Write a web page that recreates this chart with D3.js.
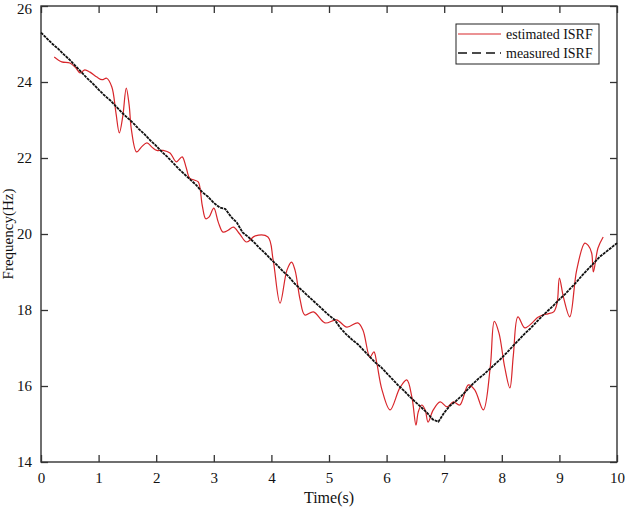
<!DOCTYPE html>
<html>
<head>
<meta charset="utf-8">
<script src="https://cdn.jsdelivr.net/npm/d3@7"></script>
<style>
  body { margin: 0; background: #fff; }
  svg text { font-family: "Liberation Serif", "Times New Roman", serif; fill: #111; }
</style>
</head>
<body>
<div id="chart"></div>
<script>
const width = 625;
const height = 508;
const margin = { top: 6, right: 8, bottom: 46, left: 41 };

const xTicks = [0, 1, 2, 3, 4, 5, 6, 7, 8, 9, 10];
const yTicks = [14, 16, 18, 20, 22, 24, 26];

// measured ISRF, sampled every 0.1 s from 0 to 10 s
const measuredStep = 0.1;
const measuredFreq = [
  25.30, 25.15, 25.00, 24.87, 24.72, 24.58, 24.42, 24.26, 24.10, 23.96,
  23.80, 23.65, 23.52, 23.36, 23.20, 23.06, 22.92, 22.76, 22.62, 22.46,
  22.32, 22.16, 22.02, 21.86, 21.70, 21.56, 21.42, 21.28, 21.10, 20.98,
  20.82, 20.70, 20.66, 20.45, 20.30, 20.04, 19.92, 19.78, 19.62, 19.48,
  19.32, 19.18, 19.02, 18.88, 18.70, 18.56, 18.42, 18.28, 18.14, 18.00,
  17.86, 17.74, 17.52, 17.36, 17.22, 17.10, 16.94, 16.78, 16.62, 16.50,
  16.34, 16.18, 16.02, 15.88, 15.72, 15.58, 15.44, 15.30, 15.12, 15.06,
  15.30, 15.48, 15.60, 15.74, 15.90, 16.06, 16.20, 16.32, 16.46, 16.60,
  16.74, 16.90, 17.06, 17.22, 17.38, 17.52, 17.68, 17.84, 17.98, 18.12,
  18.28, 18.42, 18.58, 18.74, 18.92, 19.08, 19.24, 19.40, 19.52, 19.64,
  19.76
];

// estimated ISRF
const estimatedTime = [
  0.23, 0.36, 0.50, 0.60, 0.68, 0.76, 0.85, 0.97, 1.06, 1.14,
  1.23, 1.30, 1.36, 1.42, 1.48, 1.53, 1.57, 1.66, 1.75, 1.84,
  1.93, 2.01, 2.12, 2.24, 2.35, 2.45, 2.52, 2.58, 2.66, 2.73,
  2.80, 2.86, 2.92, 3.00, 3.08, 3.16, 3.25, 3.34, 3.45, 3.57,
  3.72, 3.94, 4.03, 4.15, 4.27, 4.35, 4.41, 4.50, 4.58, 4.73,
  4.93, 5.13, 5.31, 5.50, 5.59, 5.71, 5.78, 5.83, 5.92, 6.06,
  6.23, 6.35, 6.44, 6.51, 6.55, 6.61, 6.67, 6.72, 6.81, 6.93,
  7.05, 7.16, 7.27, 7.42, 7.53, 7.68, 7.80, 7.87, 7.95, 8.05,
  8.14, 8.20, 8.28, 8.40, 8.54, 8.62, 8.72, 8.80, 8.90, 8.96,
  9.00, 9.07, 9.18, 9.30, 9.44, 9.50, 9.56, 9.59, 9.67, 9.76
];
const estimatedFreq = [
  24.66, 24.53, 24.50, 24.38, 24.24, 24.32, 24.26, 24.13, 24.06, 24.10,
  23.87, 23.20, 22.66, 23.10, 23.84, 23.40, 22.74, 22.16, 22.30, 22.40,
  22.28, 22.20, 22.20, 22.13, 21.90, 22.03, 21.75, 21.47, 21.42, 21.37,
  20.75, 20.40, 20.45, 20.68, 20.30, 20.05, 20.10, 20.18, 20.00, 19.79,
  19.95, 19.92, 19.32, 18.18, 19.05, 19.26, 19.05, 18.26, 17.87, 17.95,
  17.66, 17.74, 17.55, 17.66, 17.47, 16.76, 16.90, 16.60, 15.90, 15.37,
  15.95, 16.16, 15.70, 14.97, 15.32, 15.50, 15.37, 15.05, 15.37, 15.58,
  15.45, 15.58, 15.50, 16.03, 15.90, 15.37, 16.50, 17.70, 17.40, 16.50,
  15.95, 16.80, 17.82, 17.53, 17.68, 17.80, 17.87, 17.90, 17.95, 18.18,
  18.84, 18.34, 17.82, 19.05, 19.76, 19.70, 19.50, 19.00, 19.63, 19.92
];

const legendLabels = ["estimated ISRF", "measured ISRF"];
const legendColors = ["#d8262b", "#111"];

const svg = d3.select("#chart").append("svg")
  .attr("width", width)
  .attr("height", height);

const x = d3.scaleLinear().domain([0, 10]).range([margin.left, width - margin.right]);
const y = d3.scaleLinear().domain([14, 26]).range([height - margin.bottom, margin.top]);

// axes, ticks pointing inward
const xAxis = svg.append("g")
  .attr("transform", "translate(0," + (height - margin.bottom) + ")")
  .call(d3.axisBottom(x).tickValues(xTicks).tickSizeInner(-7).tickSizeOuter(0).tickPadding(10));
const yAxis = svg.append("g")
  .attr("transform", "translate(" + margin.left + ",0)")
  .call(d3.axisLeft(y).tickValues(yTicks).tickSizeInner(-7).tickSizeOuter(0).tickPadding(9));
const topAxis = svg.append("g")
  .attr("transform", "translate(0," + margin.top + ")")
  .call(d3.axisTop(x).tickValues(xTicks).tickSizeInner(-7).tickSizeOuter(0).tickFormat(""));
const rightAxis = svg.append("g")
  .attr("transform", "translate(" + (width - margin.right) + ",0)")
  .call(d3.axisRight(y).tickValues(yTicks).tickSizeInner(-7).tickSizeOuter(0).tickFormat(""));

[xAxis, yAxis, topAxis, rightAxis].forEach(function(g) {
  g.select(".domain").remove();
  g.selectAll("line").attr("stroke", "#333").attr("stroke-width", 1.3);
  g.selectAll("text").attr("font-size", 15).attr("fill", "#111");
});
// top label sits a little lower so it stays inside the page
yAxis.selectAll(".tick text").filter(d => d === 26).attr("dy", "0.5em");

svg.append("rect")
  .attr("x", margin.left)
  .attr("y", margin.top)
  .attr("width", width - margin.left - margin.right)
  .attr("height", height - margin.top - margin.bottom)
  .attr("fill", "none")
  .attr("stroke", "#333")
  .attr("stroke-width", 1.4);

// lines
const measured = measuredFreq.map((v, i) => [i * measuredStep, v]);
const estimated = estimatedTime.map((t, i) => [t, estimatedFreq[i]]);

const lineSmooth = d3.line()
  .x(d => x(d[0]))
  .y(d => y(d[1]))
  .curve(d3.curveCatmullRom.alpha(0.5));
const lineRaw = d3.line()
  .x(d => x(d[0]))
  .y(d => y(d[1]));

svg.append("path")
  .datum(estimated)
  .attr("d", lineSmooth)
  .attr("fill", "none")
  .attr("stroke", legendColors[0])
  .attr("stroke-width", 1.2);

svg.append("path")
  .datum(measured)
  .attr("d", lineRaw)
  .attr("fill", "none")
  .attr("stroke", legendColors[1])
  .attr("stroke-width", 1.8)
  .attr("stroke-dasharray", "3,0.8");

// axis titles
svg.append("text")
  .attr("x", (margin.left + width - margin.right) / 2)
  .attr("y", 503)
  .attr("text-anchor", "middle")
  .attr("font-size", 16)
  .text("Time(s)");

svg.append("text")
  .attr("transform", "translate(13," + ((margin.top + height - margin.bottom) / 2) + ") rotate(-90)")
  .attr("text-anchor", "middle")
  .attr("font-size", 15)
  .text("Frequency(Hz)");

// legend
const legend = svg.append("g").attr("transform", "translate(456,24)");
legend.append("rect")
  .attr("width", 143)
  .attr("height", 40)
  .attr("fill", "#fff")
  .attr("stroke", "#222")
  .attr("stroke-width", 1);

legend.selectAll("line.key")
  .data(legendLabels)
  .enter()
  .append("line")
  .attr("class", "key")
  .attr("x1", 2)
  .attr("x2", 45)
  .attr("y1", (d, i) => 10 + i * 19)
  .attr("y2", (d, i) => 10 + i * 19)
  .attr("stroke", (d, i) => legendColors[i])
  .attr("stroke-width", (d, i) => i === 0 ? 1.2 : 1.5)
  .attr("stroke-dasharray", (d, i) => i === 0 ? null : "9,5");

legend.selectAll("text.key")
  .data(legendLabels)
  .enter()
  .append("text")
  .attr("class", "key")
  .attr("x", 50)
  .attr("y", (d, i) => 15 + i * 19)
  .attr("font-size", 14)
  .text(d => d);
</script>
</body>
</html>
